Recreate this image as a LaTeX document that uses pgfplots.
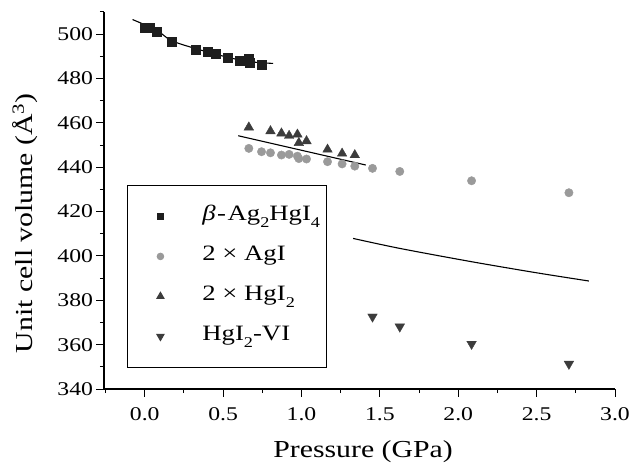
\documentclass[border=0pt]{standalone}
\usepackage{fontspec}
\setmainfont{Liberation Serif}[FakeStretch=1.22]
\usepackage{pgfplots}
\pgfplotsset{compat=1.18}
\definecolor{csq}{HTML}{1E1E1E}
\definecolor{ccir}{HTML}{9A9A9A}
\definecolor{ctri}{HTML}{3C3C3C}
\newcommand\sub[1]{\raisebox{-7bp}{\fontsize{15}{15}\selectfont #1}}
\begin{document}
\begin{tikzpicture}
\begin{axis}[
  scale only axis, width=511bp, height=377bp,
  xmin=-0.26, xmax=3.0, ymin=340, ymax=510,
  axis x line*=bottom, axis y line*=left,
  axis line style={line width=1.1bp},
  xtick={0,0.5,...,3.0}, minor xtick={-0.25,0.25,...,2.75},
  ytick={340,360,...,500}, minor ytick={350,370,...,510},
  tick align=outside,
  major tick length=7.5bp, minor tick length=4bp,
  every tick/.style={black, line width=1bp},
  /pgf/number format/assume math mode=true,
  xticklabel={\pgfmathprintnumber[fixed,fixed zerofill,precision=1]{\tick}},
  yticklabel={\pgfmathprintnumber[fixed,precision=0]{\tick}},
  tick label style={font=\fontsize{19.5}{21}\selectfont},
  xticklabel style={anchor=base, yshift=-24bp},
  xlabel={Pressure (GPa)},
  ylabel={Unit cell volume (Å\textsuperscript{3})},
  label style={font=\fontsize{24.5}{28}\selectfont},
  xlabel style={at={(axis description cs:0.507,-0.183)}, anchor=base},
  ylabel style={at={(axis description cs:-0.139,0.44)}, anchor=base},
  legend image code/.code={\path (-20bp,0bp) (17bp,0bp); \draw[#1] plot coordinates {(8.5bp,0bp)};},
  legend style={at={(axis cs:-0.113,432)}, anchor=north west,
    draw=black, line width=0.9bp, fill=white,
    font=\fontsize{22}{24}\selectfont,
    inner xsep=4bp, inner ysep=19bp, row sep=16bp,
    nodes={inner ysep=0bp, text height=16bp, text depth=8bp},
    /tikz/every odd column/.append style={column sep=31bp}},
  legend cell align=left,
]
% legend images
\addlegendimage{only marks, mark=square*, mark size=3.3bp, color=csq}
\addlegendentry{\textit{β}\kern1.5bp-\kern1.5bp Ag\sub{2}HgI\sub{4}}
\addlegendimage{only marks, mark=*, mark size=3.3bp, color=ccir}
\addlegendentry{2 × AgI}
\addlegendimage{only marks, mark=triangle*, mark size=4.2bp, color=ctri}
\addlegendentry{2 × HgI\sub{2}}
\addlegendimage{only marks, mark=triangle*, mark size=4.2bp, color=ctri, mark options={rotate=180}}
\addlegendentry{HgI\sub{2}-VI}

% fit lines
\addplot[forget plot, black, line width=1.1bp, smooth] coordinates {
(-0.078,506.6) (0.075,501.8) (0.170,497.1) (0.325,493.5) (0.528,489.6) (0.670,487.6) (0.819,486.8)};
\addplot[forget plot, black, line width=1.1bp] coordinates {(0.596,454.2) (1.41,441.0)};
\addplot[forget plot, black, line width=1.1bp, smooth] coordinates {
(1.329,407.9) (1.627,403.4) (2.085,397.4) (2.5,392.4) (2.833,388.7)};

% beta-Ag2HgI4
\addplot[forget plot, only marks, mark=square*, mark size=4.5bp, color=csq] coordinates {
(0.0,503.0) (0.032,503.0) (0.075,501.0) (0.17,496.6) (0.325,492.8) (0.40,492.1)
(0.45,491.0) (0.53,489.3) (0.605,487.9) (0.66,489.0) (0.67,487.0) (0.745,486.4)};
% 2 x AgI
\addplot[forget plot, only marks, mark=*, mark size=4.2bp, color=ccir] coordinates {
(0.664,448.5) (0.745,447.0) (0.802,446.5) (0.872,445.5) (0.921,445.8) (0.974,445.0)
(0.983,443.9) (1.032,443.7) (1.166,442.5) (1.259,441.5) (1.340,440.5) (1.453,439.5)
(1.627,438.1) (2.085,433.9) (2.706,428.5)};
% 2 x HgI2
\addplot[forget plot, only marks, mark=triangle*, mark size=5.5bp, color=ctri] coordinates {
(0.664,458.0) (0.802,456.3) (0.872,455.3) (0.921,454.2) (0.974,454.8) (0.983,451.0)
(1.032,451.8) (1.166,448.0) (1.259,446.2) (1.340,445.5)};
% HgI2-VI
\addplot[forget plot, only marks, mark=triangle*, mark size=5.5bp, color=ctri, mark options={rotate=180}] coordinates {
(1.453,372.6) (1.627,368.1) (2.085,360.3) (2.706,351.3)};
\end{axis}
\pgfresetboundingbox
\useasboundingbox (-104bp,-74bp) rectangle (525bp,389bp);
\end{tikzpicture}
\end{document}
